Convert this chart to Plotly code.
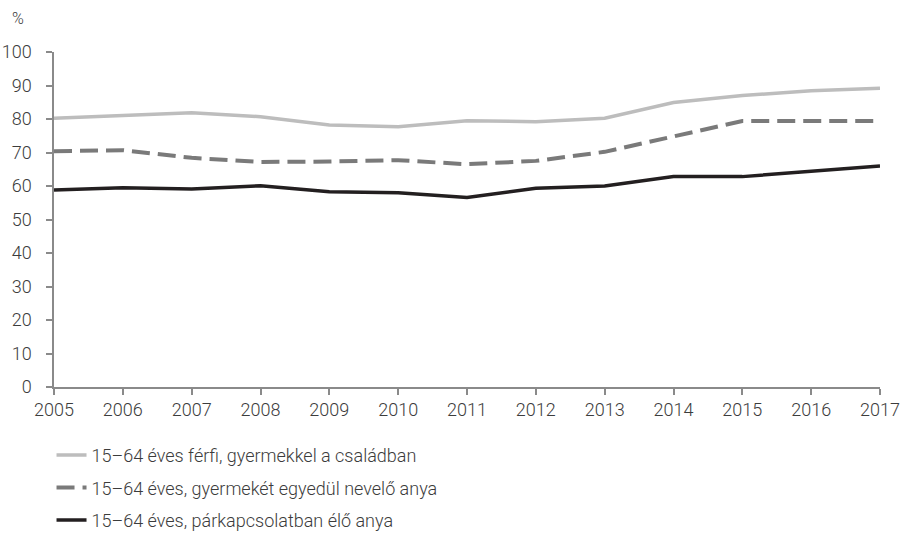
import plotly.graph_objects as go

# ── Data ──────────────────────────────────────────────────────────────
YEARS = list(range(2005, 2018))

FATHERS = [80.2, 81.0, 81.9, 80.7, 78.2, 77.7, 79.5, 79.2, 80.2, 84.9, 87.0, 88.4, 89.2]
SINGLE_MOTHERS = [70.4, 70.7, 68.4, 67.2, 67.3, 67.7, 66.5, 67.5, 70.2, 74.9, 79.4, 79.4, 79.4]
PARTNER_MOTHERS = [58.8, 59.5, 59.1, 60.1, 58.3, 58.0, 56.6, 59.3, 60.0, 62.8, 62.8, 64.5, 66.0]

SERIES_NAMES = [
    "15–64 éves férfi, gyermekkel a családban",
    "15–64 éves, gyermekét egyedül nevelő anya",
    "15–64 éves, párkapcsolatban élő anya",
]

Y_TICKS = list(range(0, 101, 10))

# ── Style ─────────────────────────────────────────────────────────────
TEXT = "#3c3c3c"
AXIS = "#8a8a8a"
FONT = "Roboto"

styles = [
    dict(color="#bdbdbd", width=3.5, dash="solid"),
    dict(color="#7a7a7a", width=4, dash="18px,8px"),
    dict(color="#231f20", width=3.5, dash="solid"),
]

fig = go.Figure()
for i, (name, vals) in enumerate(zip(SERIES_NAMES, [FATHERS, SINGLE_MOTHERS, PARTNER_MOTHERS])):
    fig.add_trace(go.Scatter(
        x=YEARS, y=vals,
        mode="lines",
        name=name,
        legendgroup=f"g{i}",
        line=styles[i],
    ))

axis_common = dict(
    showgrid=False,
    zeroline=False,
    showline=True,
    linecolor=AXIS,
    linewidth=1.5,
    ticks="outside",
    ticklen=6,
    tickcolor=AXIS,
    tickwidth=1.5,
    automargin=False,
    fixedrange=True,
    tickfont=dict(family=FONT, size=18, color=TEXT, weight=300),
)

fig.update_layout(
    width=901, height=533,
    paper_bgcolor="white",
    plot_bgcolor="white",
    margin=dict(l=54, r=21, t=52, b=146, autoexpand=False),
    font=dict(family=FONT, size=18, color=TEXT, weight=300),
    showlegend=True,
    legend=dict(
        x=-0.003, xanchor="left",
        y=-0.149, yanchor="top",
        orientation="v",
        tracegroupgap=6,
        font=dict(family=FONT, size=18, color=TEXT, weight=300),
        bgcolor="rgba(0,0,0,0)",
    ),
    xaxis=dict(
        range=[2005, 2017],
        tickmode="array",
        tickvals=YEARS,
        ticktext=[str(y) for y in YEARS],
        **axis_common,
    ),
    yaxis=dict(
        range=[0, 100],
        tickmode="array",
        tickvals=Y_TICKS,
        ticklabelstandoff=11,
        **axis_common,
    ),
    annotations=[dict(
        text="%",
        xref="paper", yref="paper",
        x=-0.044, y=1.101,
        xanchor="center", yanchor="middle",
        showarrow=False,
        font=dict(family=FONT, size=16, color=TEXT, weight=300),
    )],
)

# drop the default 8px body margin so the figure sits at the page's top-left
fig.write_html(
    "out.html",
    config={"displayModeBar": False},
    post_script="document.body.style.margin = '0px';",
)
